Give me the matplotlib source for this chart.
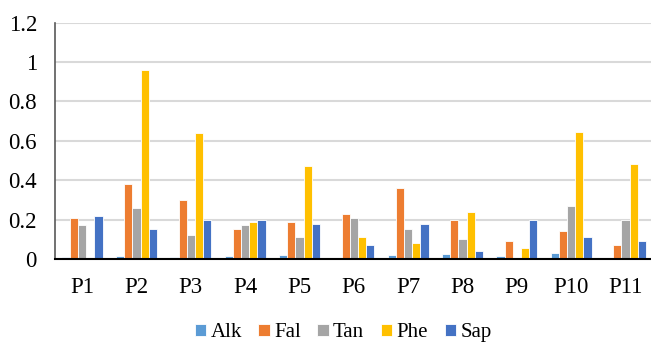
import numpy as np
import matplotlib.pyplot as plt

# data
sites = ['P1', 'P2', 'P3', 'P4', 'P5', 'P6', 'P7', 'P8', 'P9', 'P10', 'P11']
alk = [0.008, 0.015, 0.008, 0.017, 0.022, 0.0, 0.019, 0.027, 0.017, 0.03, 0.007]
fal = [0.21, 0.38, 0.30, 0.15, 0.19, 0.23, 0.36, 0.20, 0.09, 0.14, 0.07]
tan = [0.17, 0.26, 0.12, 0.17, 0.11, 0.21, 0.15, 0.10, 0.0, 0.27, 0.20]
phe = [0.0, 0.96, 0.64, 0.19, 0.47, 0.11, 0.08, 0.24, 0.056, 0.645, 0.48]
sap = [0.22, 0.15, 0.20, 0.20, 0.18, 0.07, 0.18, 0.04, 0.20, 0.11, 0.09]

series = [('Alk', alk, '#5B9BD5'), ('Fal', fal, '#ED7D31'), ('Tan', tan, '#A5A5A5'),
          ('Phe', phe, '#FFC000'), ('Sap', sap, '#4472C4')]
yticks = [0, 0.2, 0.4, 0.6, 0.8, 1, 1.2]
ytick_labels = ['0', '0.2', '0.4', '0.6', '0.8', '1', '1.2']

plt.rcParams['font.family'] = ['Liberation Serif', 'DejaVu Serif']

fig = plt.figure(figsize=(6.51, 3.43), dpi=100)
ax = fig.add_axes([0.0845, 0.245, 0.918, 0.689])

x = np.arange(len(sites))
slot = 0.15
for i, (name, vals, col) in enumerate(series):
    ax.bar(x + (i - 2) * slot, vals, width=slot, color=col, edgecolor='white',
           linewidth=0.6, label=name, zorder=3)

ax.set_xlim(-0.5, len(sites) - 0.5)
ax.set_ylim(0, 1.2)
ax.set_yticks(yticks)
ax.set_yticklabels(ytick_labels)
ax.set_xticks(x)
ax.set_xticklabels(sites)
ax.tick_params(axis='both', length=0, labelsize=16.5, colors='black')
ax.tick_params(axis='y', pad=13)
ax.tick_params(axis='x', pad=13)
ax.grid(axis='y', color='#D9D9D9', linewidth=1.5, zorder=0)
for s in ['top', 'right']:
    ax.spines[s].set_visible(False)
ax.spines['left'].set_color('#595959')
ax.spines['left'].set_linewidth(1.2)
ax.spines['bottom'].set_color('black')
ax.spines['bottom'].set_linewidth(1.5)
ax.spines['bottom'].set_zorder(4)

fig.legend(loc='center', bbox_to_anchor=(0.527, 0.03), ncol=5, frameon=False,
           fontsize=15, handlelength=0.55, handleheight=0.55, handletextpad=0.2,
           columnspacing=0.8)

fig.savefig('out.png', dpi=100)
